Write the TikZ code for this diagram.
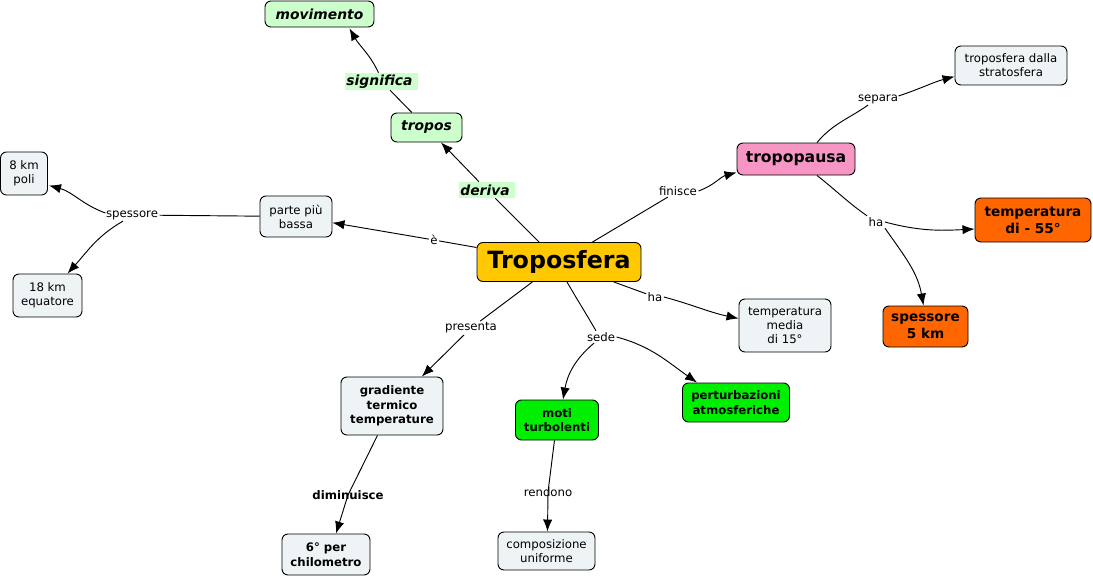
\documentclass[tikz,border=0pt]{standalone}
\usepackage{fontspec}
\setmainfont{DejaVu Sans}
\usetikzlibrary{arrows.meta,calc}
\definecolor{boxgray}{RGB}{238,243,245}
\definecolor{lgreen}{RGB}{204,255,204}
\definecolor{troyel}{RGB}{255,200,0}
\definecolor{pinkc}{RGB}{247,150,196}
\definecolor{orangec}{RGB}{255,102,0}
\definecolor{greenc}{RGB}{0,238,0}
\begin{document}
\begin{tikzpicture}[x=0.75pt,y=-0.75pt,
  box/.style={draw, line width=0.7pt, rounded corners=4.5pt, align=center, inner sep=0pt},
  fsmall/.style={font=\fontsize{8.8}{10.5}\selectfont},
  fsmallb/.style={font=\fontsize{8.8}{11}\selectfont\bfseries},
  fmid/.style={font=\fontsize{10.2}{13}\selectfont\bfseries},
  fital/.style={font=\fontsize{10.4}{12.5}\selectfont\bfseries\itshape},
  cgray/.style={box, fill=boxgray, fsmall},
  cgrayb/.style={box, fill=boxgray, fsmallb},
  cgreen/.style={box, fill=greenc, fsmallb},
  clgreen/.style={box, fill=lgreen, fital},
  corange/.style={box, fill=orangec, fmid},
  lbl/.style={fsmall, inner sep=1pt},
  lblg/.style={fital, fill=lgreen, inner sep=1pt, align=left},
  conn/.style={line width=0.7pt},
  arr/.style={conn, -{Latex[length=9pt,width=7pt]}},
]
\useasboundingbox (0,0) rectangle (1093,578);

% concepts
\node[clgreen, minimum width=81.75pt, minimum height=19.5pt] (mov) at (319.5,14) {movimento};
\node[clgreen, minimum width=53.25pt, minimum height=21.75pt] (tropos) at (426.5,127.5) {tropos};
\node[box, fill=troyel, minimum width=123pt, minimum height=29.25pt, font=\fontsize{17.8}{20}\selectfont\bfseries] (tro) at (559,262) {Troposfera};
\node[cgray, minimum width=54pt, minimum height=30.75pt] (parte) at (296,216.5) {parte più\\bassa};
\node[cgray, minimum width=35.25pt, minimum height=32.25pt] (poli) at (24,173.5) {8 km\\poli};
\node[cgray, minimum width=51.75pt, minimum height=32.25pt] (equ) at (47.5,295.5) {18 km\\equatore};
\node[box, fill=pinkc, minimum width=88.5pt, minimum height=24pt, font=\fontsize{11.7}{14}\selectfont\bfseries] (tpa) at (796,159) {tropopausa};
\node[cgray, minimum width=84pt, minimum height=29.25pt] (strat) at (1011,65.5) {troposfera dalla\\stratosfera};
\node[corange, minimum width=87pt, minimum height=33pt] (t55) at (1033,220) {temperatura\\di - 55°};
\node[corange, minimum width=63.75pt, minimum height=30.75pt] (sp5) at (925.5,326.5) {spessore\\5 km};
\node[cgray, minimum width=69pt, minimum height=39.75pt] (tmed) at (785,325.5) {temperatura\\media\\di 15°};
\node[cgrayb, minimum width=76.5pt, minimum height=43.5pt] (grad) at (392,406) {gradiente\\termico\\temperature};
\node[cgreen, minimum width=62.25pt, minimum height=30pt] (moti) at (557,420) {moti\\turbolenti};
\node[cgreen, minimum width=80.25pt, minimum height=29.25pt] (pert) at (736,402.5) {perturbazioni\\atmosferiche};
\node[cgrayb, minimum width=66pt, minimum height=30.75pt] (sei) at (326,554.5) {6° per\\chilometro};
\node[cgray, minimum width=72.75pt, minimum height=28.5pt] (comp) at (546.5,551) {composizione\\uniforme};

% linking phrases
\node[lblg, minimum height=12.75pt] (lsig) at (381.5,81.5) {significa\hspace*{3pt}};
\node[lblg, minimum height=12pt] (lder) at (487,190) {deriva\hspace*{3pt}};
\node[lbl] (le) at (434,240) {è};
\node[lbl] (lsp) at (132,215) {spessore};
\node[lbl] (lfin) at (678,191) {finisce};
\node[lbl] (lsep) at (878,99) {separa};
\node[lbl] (lha1) at (876,222) {ha};
\node[lbl] (lha2) at (655,297) {ha};
\node[lbl] (lpres) at (471,328) {presenta};
\node[lbl] (lsede) at (601,337) {sede};
\node[lbl, font=\fontsize{8.8}{10.5}\selectfont\bfseries] (ldim) at (348,495) {diminuisce};
\node[lbl] (lrend) at (548,492) {rendono};

% connectors
\draw[conn] (tro) -- (lder);
\draw[arr] (lder) -- (tropos);
\draw[conn] (tropos) -- (lsig);
\draw[arr] ($(lsig.north)+(-3,0)$) to[out=115,in=-60] ($(mov.south)+(30,1)$);

\draw[conn] (tro) -- (le);
\draw[arr] (le) -- (parte);
\draw[conn] (parte) -- (lsp);
\draw[arr] ($(lsp.west)+(1,-2)$) to[out=160,in=-15] ($(poli.east)+(1,12)$);
\draw[arr] ($(lsp.south)+(-9,0)$) to[out=210,in=48] ($(equ.north)+(20,0)$);

\draw[conn] (tro) -- (lfin);
\draw[arr] (lfin.east) to[out=20,in=195] ($(tpa.south west)+(0,-3)$);
\draw[conn] ($(tpa.north)+(21,0)$) to[out=50,in=215] ($(lsep.south)+(-10,0)$);
\draw[arr] ($(lsep.north east)+(-1,3)$) to[out=18,in=195] ($(strat.west)+(0,11)$);
\draw[conn] ($(tpa.south)+(21,0)$) to[out=-38,in=145] (lha1.north west);
\draw[arr] (lha1.east) to[out=-15,in=183] ($(t55.west)+(0,9)$);
\draw[arr] (lha1.south east) to[out=-55,in=100] ($(sp5.north)+(-2,0)$);

\draw[conn] (tro) -- (lha2);
\draw[arr] (lha2.east) to[out=-15,in=168] ($(tmed.west)+(0,-7)$);
\draw[conn] (tro) -- (lpres);
\draw[arr] (lpres) -- (grad);
\draw[conn] ($(tro.south)+(8,0)$) to[out=-60,in=120] ($(lsede.north)+(-5,0)$);
\draw[arr] ($(lsede.south)+(-7,0)$) to[out=-140,in=80] ($(moti.north)+(6,0)$);
\draw[arr] (lsede.east) to[out=-15,in=145] ($(pert.north west)+(15,0)$);

\draw[conn] (grad) -- (ldim.center);
\draw[arr] (ldim.center) -- ($(sei.north)+(10,0)$);
\draw[conn] (moti) -- (lrend.center);
\draw[arr] (lrend.center) -- ($(comp.north)+(1,0)$);
\end{tikzpicture}
\end{document}
